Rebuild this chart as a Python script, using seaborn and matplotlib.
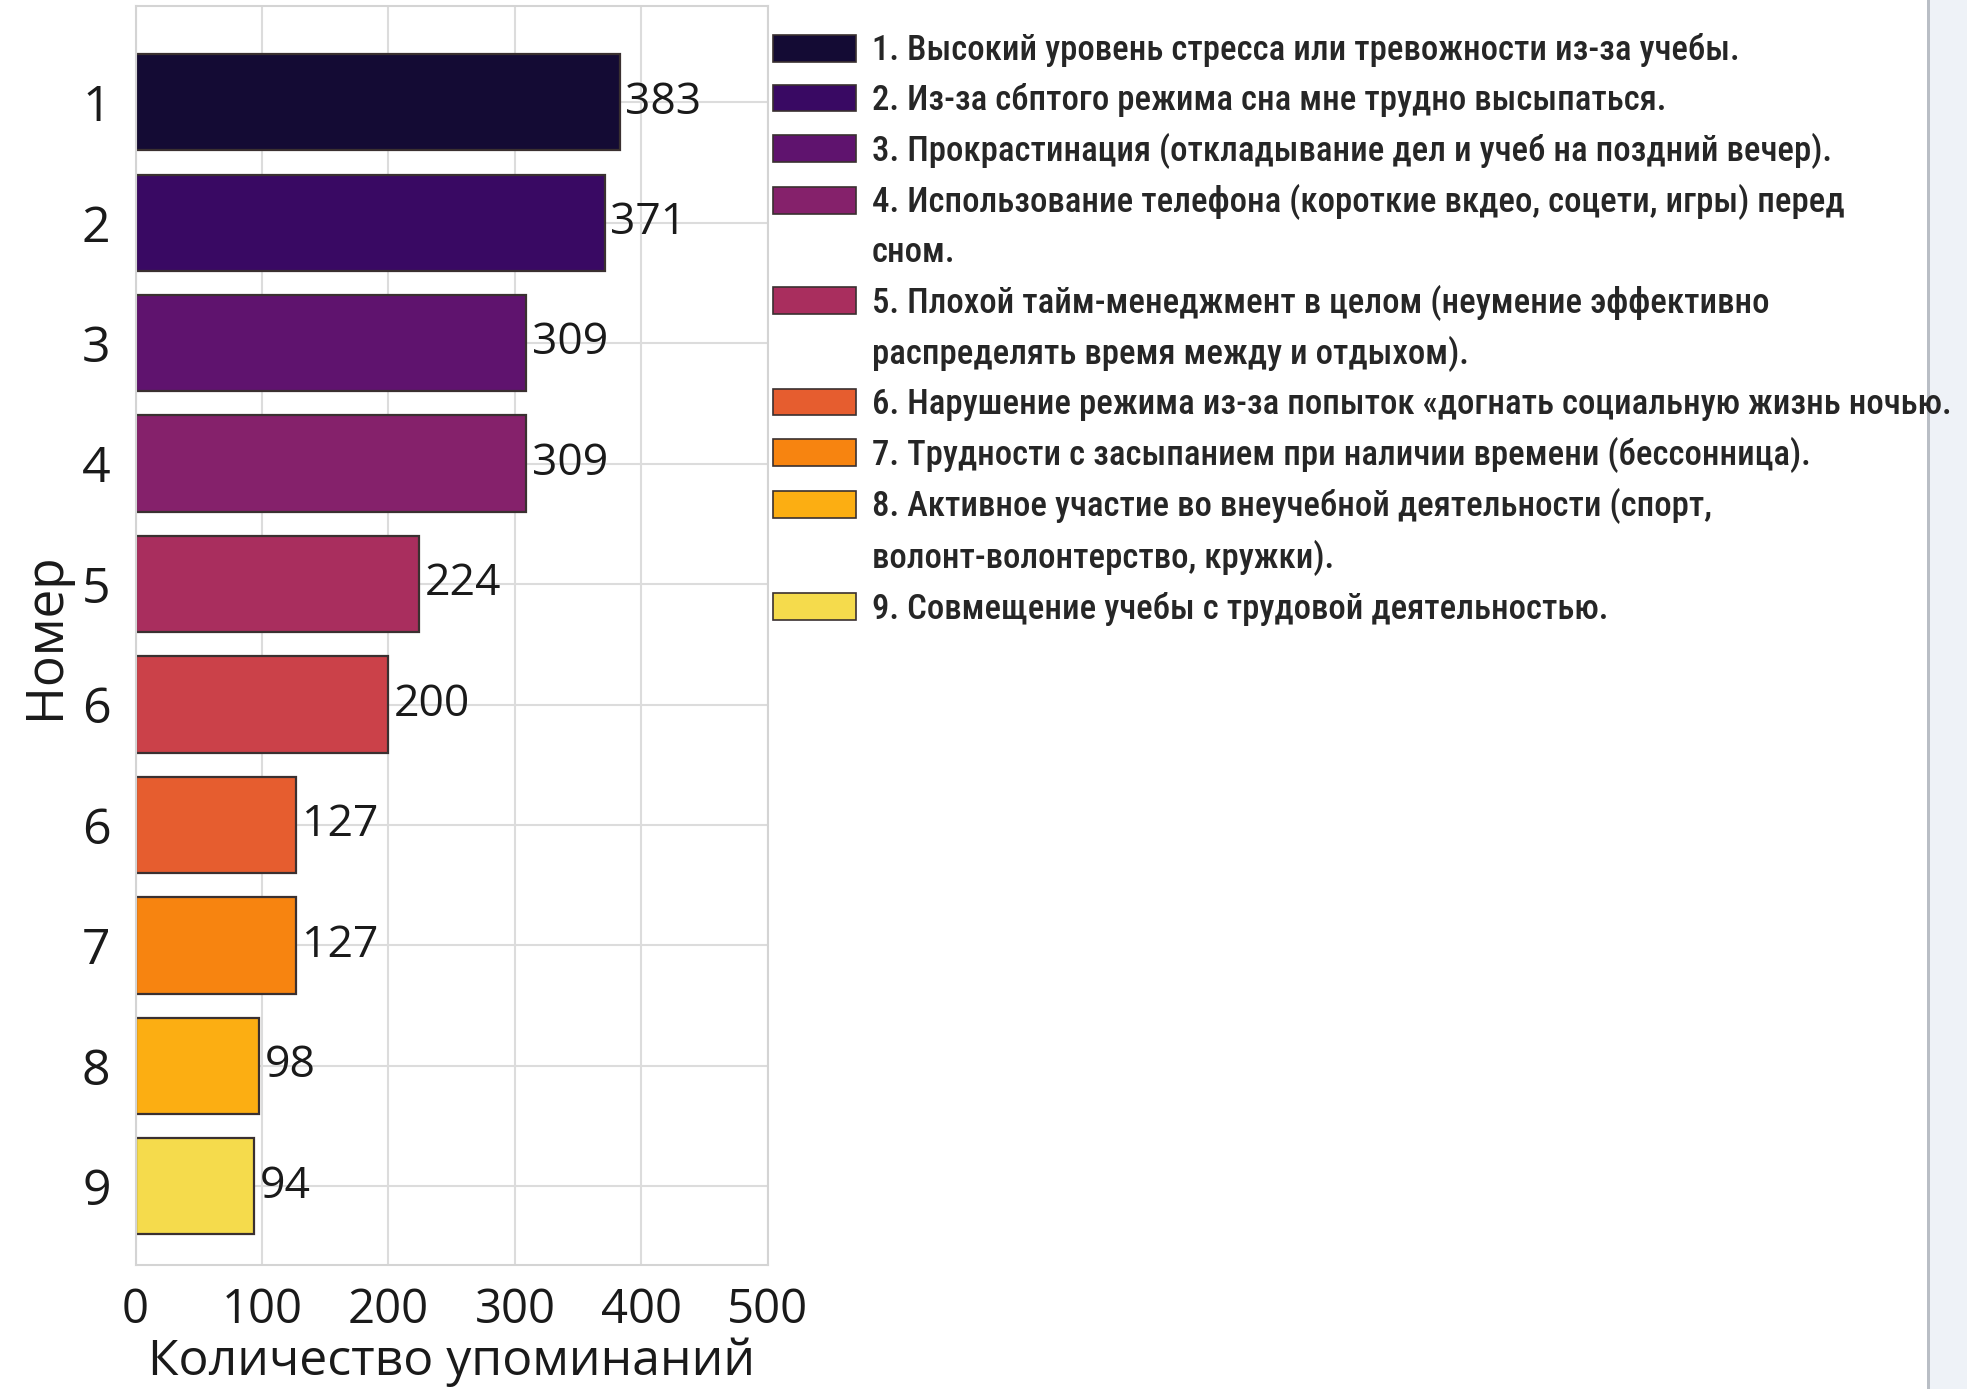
import matplotlib
matplotlib.use("Agg")
import matplotlib.pyplot as plt
from matplotlib import font_manager
from matplotlib.font_manager import FontProperties
from matplotlib.patches import Patch, Rectangle
import seaborn as sns
import pandas as pd

# Reasons for poor sleep among students, by number of mentions
rank_labels = ["1", "2", "3", "4", "5", "6", "6", "7", "8", "9"]
mentions = [383, 371, 309, 309, 224, 200, 127, 127, 98, 94]

legend_lines = [
    ["1. Высокий уровень стресса или тревожности из-за учебы."],
    ["2. Из-за сбптого режима сна мне трудно высыпаться."],
    ["3. Прокрастинация (откладывание дел и учеб на поздний вечер)."],
    ["4. Использование телефона (короткие вкдео, соцети, игры) перед", "сном."],
    ["5. Плохой тайм-менеджмент в целом (неумение эффективно",
     "распределять время между и отдыхом)."],
    ["6. Нарушение режима из-за попыток «догнать социальную жизнь ночью."],
    ["7. Трудности с засыпанием при наличии времени (бессонница)."],
    ["8. Активное участие во внеучебной деятельности (спорт,",
     "волонт-волонтерство, кружки)."],
    ["9. Совмещение учебы с трудовой деятельностью."],
]
legend_color_idx = [0, 1, 2, 3, 4, 6, 7, 8, 9]

sns.set_theme(style="whitegrid")
plt.rcParams["font.family"] = ["Open Sans", "DejaVu Sans"]


def narrow_font(size):
    """Pick a condensed face for the long legend labels if one is installed."""
    files = [f.fname for f in font_manager.fontManager.ttflist]
    prefs = ["RobotoCondensed-Medium", "LiberationSansNarrow-Regular",
             "RobotoCondensed-Regular", "DejaVuSansCondensed.ttf",
             "OpenSans_Condensed-Regular", "OpenSansCondensed",
             "NotoSans-Condensed", "Condensed", "Narrow"]
    for key in prefs:
        for fn in files:
            base = fn.split("/")[-1]
            if key in base and "Bold" not in base and "Oblique" not in base \
                    and "Italic" not in base:
                return FontProperties(fname=fn, size=size)
    return FontProperties(family="DejaVu Sans", stretch="condensed", size=size)


palette = sns.color_palette("inferno", len(mentions))

df = pd.DataFrame({
    "pos": [str(i) for i in range(len(mentions))],
    "mentions": mentions,
})

fig = plt.figure(figsize=(19.67, 13.89), dpi=100)
ax = fig.add_axes([0.0689, 0.0896, 0.3215, 0.9061])

sns.barplot(
    data=df, x="mentions", y="pos", hue="pos", palette=palette,
    orient="h", width=0.8, edgecolor="#3a3030", linewidth=1.6,
    legend=False, ax=ax, saturation=1,
)

for cont in ax.containers:
    ax.bar_label(cont, fmt="%d", padding=4, fontsize=32, color="#1a1a1a")

ax.set_xlim(0, 500)
ax.set_ylim(9.65, -0.8)
ax.set_xticks([0, 100, 200, 300, 400, 500])
ax.set_yticks(range(len(rank_labels)))
ax.set_yticklabels(rank_labels)
ax.tick_params(axis="x", labelsize=34, pad=16, length=0, colors="#1a1a1a")
ax.tick_params(axis="y", labelsize=36, pad=18, length=0, colors="#1a1a1a")
ax.set_xlabel("Количество упоминаний", fontsize=36, labelpad=2, color="#1a1a1a")
ax.set_ylabel("Номер", fontsize=37, labelpad=8, color="#1a1a1a")
ax.grid(True, axis="both", color="#dcdcdc", linewidth=1.5)
ax.set_axisbelow(True)
for sp in ax.spines.values():
    sp.set_color("#d4d4d4")
    sp.set_linewidth(1.5)

# Legend: continuation lines get an empty handle so swatches sit on the first line
handles, labels = [], []
for lines, ci in zip(legend_lines, legend_color_idx):
    handles.append(Patch(facecolor=palette[ci], edgecolor="#3a3030", linewidth=1.2))
    labels.append(lines[0])
    for extra in lines[1:]:
        handles.append(Patch(facecolor="none", edgecolor="none"))
        labels.append(extra)

fig.legend(
    handles, labels, loc="upper left", bbox_to_anchor=(0.393, 0.976),
    frameon=False, prop=narrow_font(25),
    handlelength=2.4, handleheight=0.8, handletextpad=0.45,
    labelspacing=0.45, borderaxespad=0, borderpad=0,
)

# Side panel strip on the right edge
fig.add_artist(Rectangle((0.9805, 0), 0.0195, 1, transform=fig.transFigure,
                         facecolor="#eef2f7", edgecolor="none", zorder=-1))
fig.add_artist(Rectangle((0.9795, 0), 0.0018, 1, transform=fig.transFigure,
                         facecolor="#b9bec5", edgecolor="none", zorder=-1))

fig.savefig("out.png", dpi=100)
